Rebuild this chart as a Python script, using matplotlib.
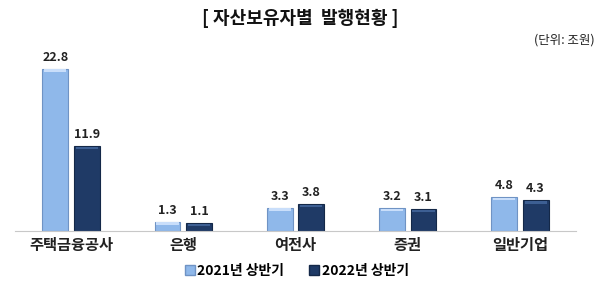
import numpy as np
import matplotlib
matplotlib.use("Agg")
import matplotlib.pyplot as plt
from matplotlib.patches import Patch

plt.rcParams['font.family'] = ['Noto Sans CJK KR', 'DejaVu Sans']

categories = ['주택금융공사', '은행', '여전사', '증권', '일반기업']
series_names = ['2021년 상반기', '2022년 상반기']
h1_2021 = [22.8, 1.3, 3.3, 3.2, 4.8]
h1_2022 = [11.9, 1.1, 3.8, 3.1, 4.3]

light = '#8fb8ea'
dark = '#1f3a66'

fig = plt.figure(figsize=(6, 2.88), dpi=100)
ax = fig.add_axes([15/600, 1 - 231/288, 561/600, 178/288])

x = np.arange(len(categories))
w = 0.23
off = 0.14
b1 = ax.bar(x - off, h1_2021, w, color=light, edgecolor='#6f93c4', linewidth=0.8)
b2 = ax.bar(x + off, h1_2022, w, color=dark, edgecolor='#142848', linewidth=0.8)

# simple bevel highlight on top of each bar
for bars, hc in ((b1, '#c9defa'), (b2, '#3d5f93')):
    for r in bars:
        ax.bar(r.get_x() + r.get_width() / 2, 0.35, r.get_width() * 0.86,
               bottom=r.get_height() - 0.45, color=hc, linewidth=0)

for bars, vals in ((b1, h1_2021), (b2, h1_2022)):
    for r, v in zip(bars, vals):
        ax.text(r.get_x() + r.get_width() / 2, v + 0.7, f'{v:.1f}',
                ha='center', va='bottom', fontsize=9, fontweight='bold', color='#222222')

ax.set_xlim(-0.5, 4.5)
ax.set_ylim(0, 25)
ax.set_yticks([])
ax.set_xticks(x)
ax.set_xticklabels(categories, fontsize=11, fontweight='bold', color='#222222')
ax.tick_params(axis='x', length=0, pad=4)
for s in ['top', 'right', 'left']:
    ax.spines[s].set_visible(False)
ax.spines['bottom'].set_color('#c8c8c8')

fig.text(0.5, 1 - 18/288, '[ 자산보유자별  발행현황 ]', ha='center', va='center',
         fontsize=13, fontweight='bold', color='#111111')
fig.text(595/600, 1 - 40/288, '(단위: 조원)', ha='right', va='center',
         fontsize=9, color='#222222')

handles = [Patch(facecolor=light, edgecolor='#6f93c4'), Patch(facecolor=dark, edgecolor='#142848')]
leg = fig.legend(handles, series_names, loc='center', bbox_to_anchor=(0.495, 1 - 271/288),
                 ncol=2, frameon=False, handlelength=0.7, handleheight=0.7,
                 handletextpad=0.2, columnspacing=1.8, prop={'weight': 'bold', 'size': 10})

fig.savefig('out.png', dpi=100)
